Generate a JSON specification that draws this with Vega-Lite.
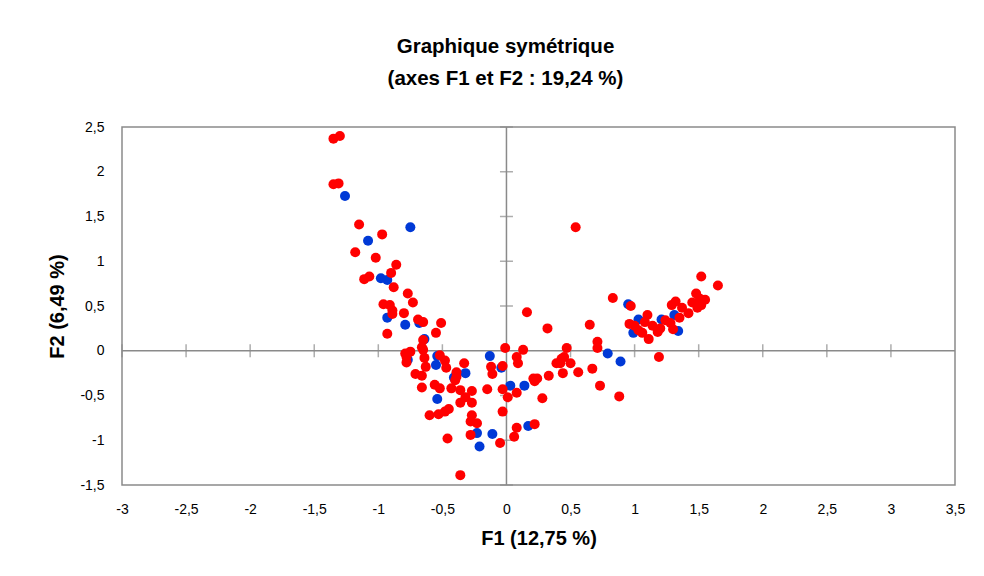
{
  "$schema": "https://vega.github.io/schema/vega-lite/v6.json",
  "width": 833,
  "height": 358,
  "autosize": {"type": "none"},
  "padding": {"left": 122, "top": 127, "right": 29, "bottom": 91},
  "background": "white",
  "title": {
    "text": ["Graphique symétrique", "(axes F1 et F2 : 19,24 %)"],
    "font": "Liberation Sans",
    "fontSize": 20.5,
    "fontWeight": "bold",
    "color": "#000000",
    "lineHeight": 32,
    "anchor": "middle",
    "dx": -33,
    "offset": 31
  },
  "config": {
    "view": {"stroke": "#8a8a8a", "strokeWidth": 1.5},
    "axis": {
      "labelFont": "Liberation Sans",
      "labelFontSize": 14,
      "labelColor": "#000000",
      "labelFlush": false,
      "labelOverlap": false,
      "titleFont": "Liberation Sans",
      "titleFontSize": 20,
      "titleFontWeight": "bold",
      "titleColor": "#000000",
      "grid": false,
      "domain": false,
      "ticks": false
    }
  },
  "datasets": {
    "pts": [
      {"x": -1.26, "y": 1.73, "g": "B"},
      {"x": -1.08, "y": 1.23, "g": "B"},
      {"x": -0.75, "y": 1.38, "g": "B"},
      {"x": -0.98, "y": 0.81, "g": "B"},
      {"x": -0.93, "y": 0.79, "g": "B"},
      {"x": -0.93, "y": 0.37, "g": "B"},
      {"x": -0.79, "y": 0.29, "g": "B"},
      {"x": -0.68, "y": 0.31, "g": "B"},
      {"x": -0.64, "y": 0.13, "g": "B"},
      {"x": -0.77, "y": -0.10, "g": "B"},
      {"x": -0.54, "y": -0.06, "g": "B"},
      {"x": -0.55, "y": -0.16, "g": "B"},
      {"x": -0.54, "y": -0.54, "g": "B"},
      {"x": -0.41, "y": -0.30, "g": "B"},
      {"x": -0.32, "y": -0.25, "g": "B"},
      {"x": -0.23, "y": -0.92, "g": "B"},
      {"x": -0.21, "y": -1.07, "g": "B"},
      {"x": -0.11, "y": -0.93, "g": "B"},
      {"x": -0.13, "y": -0.06, "g": "B"},
      {"x": -0.04, "y": -0.19, "g": "B"},
      {"x": 0.03, "y": -0.39, "g": "B"},
      {"x": 0.14, "y": -0.39, "g": "B"},
      {"x": 0.17, "y": -0.84, "g": "B"},
      {"x": 0.79, "y": -0.03, "g": "B"},
      {"x": 0.89, "y": -0.12, "g": "B"},
      {"x": 0.95, "y": 0.52, "g": "B"},
      {"x": 0.99, "y": 0.20, "g": "B"},
      {"x": 1.03, "y": 0.35, "g": "B"},
      {"x": 1.21, "y": 0.35, "g": "B"},
      {"x": 1.31, "y": 0.40, "g": "B"},
      {"x": 1.34, "y": 0.22, "g": "B"},
      {"x": -1.35, "y": 2.37, "g": "R"},
      {"x": -1.30, "y": 2.40, "g": "R"},
      {"x": -1.35, "y": 1.86, "g": "R"},
      {"x": -1.31, "y": 1.87, "g": "R"},
      {"x": -1.15, "y": 1.41, "g": "R"},
      {"x": -0.97, "y": 1.30, "g": "R"},
      {"x": -1.18, "y": 1.10, "g": "R"},
      {"x": -1.02, "y": 1.04, "g": "R"},
      {"x": -0.86, "y": 0.96, "g": "R"},
      {"x": -0.90, "y": 0.87, "g": "R"},
      {"x": -1.11, "y": 0.80, "g": "R"},
      {"x": -1.07, "y": 0.83, "g": "R"},
      {"x": -0.88, "y": 0.71, "g": "R"},
      {"x": -0.77, "y": 0.64, "g": "R"},
      {"x": -0.73, "y": 0.54, "g": "R"},
      {"x": -0.96, "y": 0.52, "g": "R"},
      {"x": -0.91, "y": 0.51, "g": "R"},
      {"x": -0.89, "y": 0.45, "g": "R"},
      {"x": -0.89, "y": 0.41, "g": "R"},
      {"x": -0.80, "y": 0.42, "g": "R"},
      {"x": -0.69, "y": 0.35, "g": "R"},
      {"x": -0.65, "y": 0.32, "g": "R"},
      {"x": -0.51, "y": 0.31, "g": "R"},
      {"x": -0.93, "y": 0.19, "g": "R"},
      {"x": -0.55, "y": 0.20, "g": "R"},
      {"x": -0.65, "y": 0.12, "g": "R"},
      {"x": -0.66, "y": 0.04, "g": "R"},
      {"x": -0.65, "y": 0.01, "g": "R"},
      {"x": -0.79, "y": -0.03, "g": "R"},
      {"x": -0.75, "y": -0.01, "g": "R"},
      {"x": -0.78, "y": -0.13, "g": "R"},
      {"x": -0.78, "y": -0.07, "g": "R"},
      {"x": -0.64, "y": -0.08, "g": "R"},
      {"x": -0.63, "y": -0.18, "g": "R"},
      {"x": -0.71, "y": -0.26, "g": "R"},
      {"x": -0.66, "y": -0.28, "g": "R"},
      {"x": -0.66, "y": -0.41, "g": "R"},
      {"x": -0.52, "y": -0.05, "g": "R"},
      {"x": -0.48, "y": -0.11, "g": "R"},
      {"x": -0.47, "y": -0.19, "g": "R"},
      {"x": -0.56, "y": -0.38, "g": "R"},
      {"x": -0.52, "y": -0.42, "g": "R"},
      {"x": -0.43, "y": -0.42, "g": "R"},
      {"x": -0.39, "y": -0.24, "g": "R"},
      {"x": -0.39, "y": -0.29, "g": "R"},
      {"x": -0.40, "y": -0.33, "g": "R"},
      {"x": -0.33, "y": -0.14, "g": "R"},
      {"x": -0.36, "y": -0.44, "g": "R"},
      {"x": -0.27, "y": -0.45, "g": "R"},
      {"x": -0.32, "y": -0.52, "g": "R"},
      {"x": -0.27, "y": -0.58, "g": "R"},
      {"x": -0.36, "y": -0.58, "g": "R"},
      {"x": -0.60, "y": -0.72, "g": "R"},
      {"x": -0.53, "y": -0.71, "g": "R"},
      {"x": -0.48, "y": -0.68, "g": "R"},
      {"x": -0.45, "y": -0.65, "g": "R"},
      {"x": -0.27, "y": -0.72, "g": "R"},
      {"x": -0.28, "y": -0.79, "g": "R"},
      {"x": -0.23, "y": -0.81, "g": "R"},
      {"x": -0.46, "y": -0.98, "g": "R"},
      {"x": -0.28, "y": -0.94, "g": "R"},
      {"x": -0.05, "y": -1.03, "g": "R"},
      {"x": -0.36, "y": -1.39, "g": "R"},
      {"x": -0.15, "y": -0.43, "g": "R"},
      {"x": -0.12, "y": -0.18, "g": "R"},
      {"x": -0.11, "y": -0.26, "g": "R"},
      {"x": -0.03, "y": -0.17, "g": "R"},
      {"x": -0.01, "y": 0.03, "g": "R"},
      {"x": -0.03, "y": -0.43, "g": "R"},
      {"x": 0.01, "y": -0.52, "g": "R"},
      {"x": 0.08, "y": -0.47, "g": "R"},
      {"x": -0.03, "y": -0.68, "g": "R"},
      {"x": 0.08, "y": -0.86, "g": "R"},
      {"x": 0.06, "y": -0.96, "g": "R"},
      {"x": 0.22, "y": -0.82, "g": "R"},
      {"x": 0.13, "y": 0.01, "g": "R"},
      {"x": 0.08, "y": -0.07, "g": "R"},
      {"x": 0.09, "y": -0.14, "g": "R"},
      {"x": 0.16, "y": 0.43, "g": "R"},
      {"x": 0.21, "y": -0.31, "g": "R"},
      {"x": 0.24, "y": -0.31, "g": "R"},
      {"x": 0.22, "y": -0.34, "g": "R"},
      {"x": 0.33, "y": -0.28, "g": "R"},
      {"x": 0.28, "y": -0.53, "g": "R"},
      {"x": 0.32, "y": 0.25, "g": "R"},
      {"x": 0.54, "y": 1.38, "g": "R"},
      {"x": 0.47, "y": 0.03, "g": "R"},
      {"x": 0.45, "y": -0.07, "g": "R"},
      {"x": 0.43, "y": -0.09, "g": "R"},
      {"x": 0.42, "y": -0.14, "g": "R"},
      {"x": 0.39, "y": -0.14, "g": "R"},
      {"x": 0.50, "y": -0.14, "g": "R"},
      {"x": 0.44, "y": -0.25, "g": "R"},
      {"x": 0.56, "y": -0.24, "g": "R"},
      {"x": 0.65, "y": 0.29, "g": "R"},
      {"x": 0.71, "y": 0.10, "g": "R"},
      {"x": 0.71, "y": 0.03, "g": "R"},
      {"x": 0.67, "y": -0.20, "g": "R"},
      {"x": 0.73, "y": -0.39, "g": "R"},
      {"x": 0.88, "y": -0.51, "g": "R"},
      {"x": 0.83, "y": 0.59, "g": "R"},
      {"x": 0.97, "y": 0.50, "g": "R"},
      {"x": 1.19, "y": -0.07, "g": "R"},
      {"x": 1.11, "y": 0.13, "g": "R"},
      {"x": 1.10, "y": 0.40, "g": "R"},
      {"x": 1.08, "y": 0.32, "g": "R"},
      {"x": 0.96, "y": 0.30, "g": "R"},
      {"x": 1.00, "y": 0.28, "g": "R"},
      {"x": 1.06, "y": 0.20, "g": "R"},
      {"x": 1.03, "y": 0.23, "g": "R"},
      {"x": 1.14, "y": 0.28, "g": "R"},
      {"x": 1.20, "y": 0.25, "g": "R"},
      {"x": 1.18, "y": 0.21, "g": "R"},
      {"x": 1.24, "y": 0.34, "g": "R"},
      {"x": 1.28, "y": 0.31, "g": "R"},
      {"x": 1.30, "y": 0.24, "g": "R"},
      {"x": 1.35, "y": 0.37, "g": "R"},
      {"x": 1.29, "y": 0.51, "g": "R"},
      {"x": 1.32, "y": 0.55, "g": "R"},
      {"x": 1.37, "y": 0.48, "g": "R"},
      {"x": 1.42, "y": 0.42, "g": "R"},
      {"x": 1.48, "y": 0.64, "g": "R"},
      {"x": 1.51, "y": 0.58, "g": "R"},
      {"x": 1.55, "y": 0.57, "g": "R"},
      {"x": 1.45, "y": 0.54, "g": "R"},
      {"x": 1.49, "y": 0.48, "g": "R"},
      {"x": 1.52, "y": 0.51, "g": "R"},
      {"x": 1.52, "y": 0.83, "g": "R"},
      {"x": 1.65, "y": 0.73, "g": "R"}
    ],
    "xticks": [
      {"v": -3}, {"v": -2.5}, {"v": -2}, {"v": -1.5}, {"v": -1}, {"v": -0.5},
      {"v": 0.5}, {"v": 1}, {"v": 1.5}, {"v": 2}, {"v": 2.5}, {"v": 3}
    ],
    "yticks": [
      {"v": -1.5}, {"v": -1}, {"v": -0.5}, {"v": 0.5}, {"v": 1}, {"v": 1.5}, {"v": 2}, {"v": 2.5}
    ],
    "zero": [{"v": 0}]
  },
  "layer": [
    {
      "data": {"name": "zero"},
      "mark": {"type": "rule", "color": "#8a8a8a", "strokeWidth": 1.5},
      "encoding": {
        "x": {"field": "v", "type": "quantitative", "scale": {"domain": [-3, 3.5], "nice": false, "zero": false},
          "axis": {"values": [-3, -2.5, -2, -1.5, -1, -0.5, 0, 0.5, 1, 1.5, 2, 2.5, 3, 3.5], "labelExpr": "replace(toString(datum.value), '.', ',')", "labelPadding": 17, "title": "F1 (12,75 %)", "titlePadding": 12}}
      }
    },
    {
      "data": {"name": "zero"},
      "mark": {"type": "rule", "color": "#8a8a8a", "strokeWidth": 1.5},
      "encoding": {
        "y": {"field": "v", "type": "quantitative", "scale": {"domain": [-1.5, 2.5], "nice": false, "zero": false},
          "axis": {"values": [-1.5, -1, -0.5, 0, 0.5, 1, 1.5, 2, 2.5], "labelExpr": "replace(toString(datum.value), '.', ',')", "labelPadding": 18, "title": "F2 (6,49 %)", "titlePadding": 12}}
      }
    },
    {
      "data": {"name": "xticks"},
      "mark": {"type": "tick", "orient": "vertical", "color": "#8a8a8a", "size": 13, "thickness": 1.5},
      "encoding": {
        "x": {"field": "v", "type": "quantitative"},
        "y": {"datum": 0, "type": "quantitative"}
      }
    },
    {
      "data": {"name": "yticks"},
      "mark": {"type": "tick", "orient": "horizontal", "color": "#8a8a8a", "size": 13, "thickness": 1.5},
      "encoding": {
        "y": {"field": "v", "type": "quantitative"},
        "x": {"datum": 0, "type": "quantitative"}
      }
    },
    {
      "data": {"name": "pts"},
      "mark": {"type": "circle", "size": 100, "opacity": 1},
      "encoding": {
        "x": {"field": "x", "type": "quantitative"},
        "y": {"field": "y", "type": "quantitative"},
        "color": {"field": "g", "type": "nominal", "scale": {"domain": ["B", "R"], "range": ["#0039D6", "#FF0000"]}, "legend": null}
      }
    }
  ]
}
